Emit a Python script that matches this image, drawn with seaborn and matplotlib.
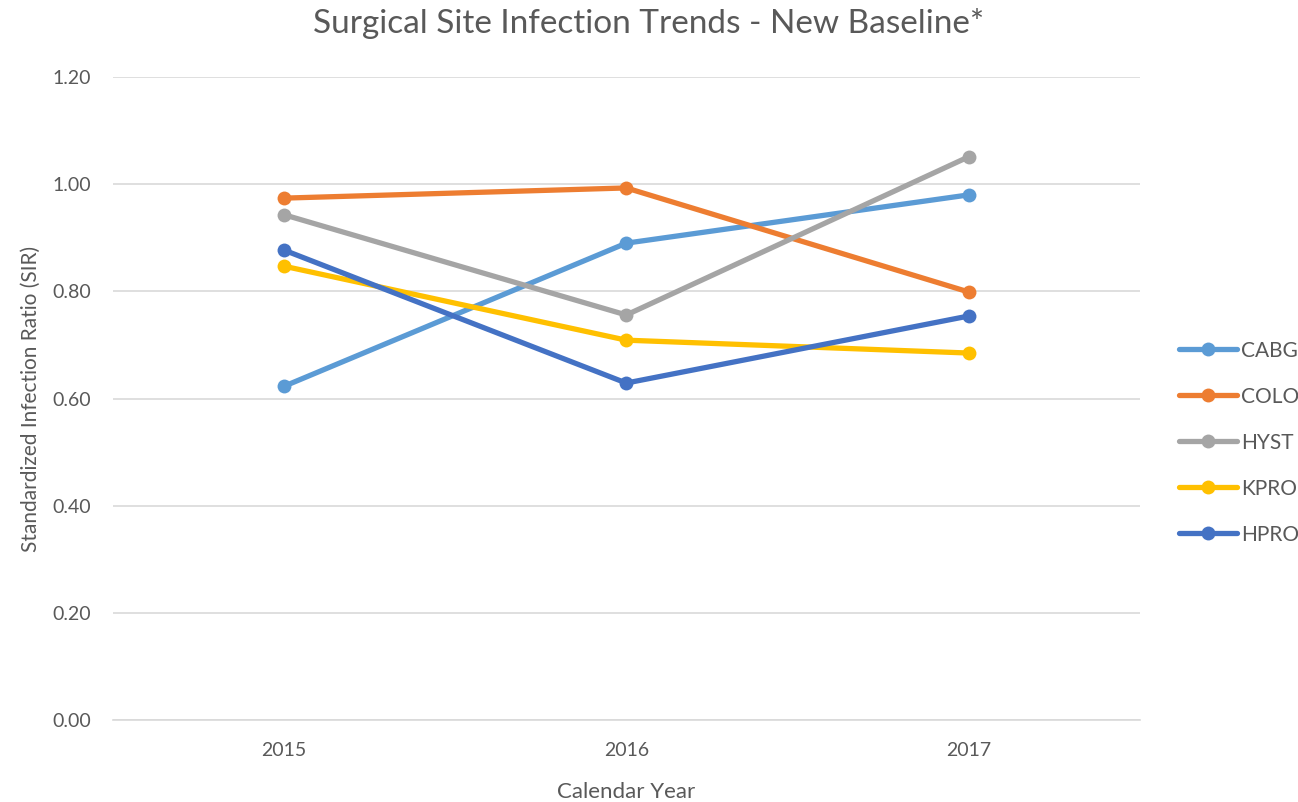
import pandas as pd
import matplotlib.pyplot as plt
import seaborn as sns

years = ['2015', '2016', '2017']
procedures = ['CABG', 'COLO', 'HYST', 'KPRO', 'HPRO']
cabg = [0.623, 0.890, 0.980]
colo = [0.974, 0.993, 0.799]
hyst = [0.943, 0.756, 1.051]
kpro = [0.847, 0.709, 0.685]
hpro = [0.877, 0.629, 0.754]
colors = ['#5B9BD5', '#ED7D31', '#A5A5A5', '#FFC000', '#4472C4']

rows = []
for name, vals in zip(procedures, [cabg, colo, hyst, kpro, hpro]):
    for yr, v in zip(years, vals):
        rows.append({'year': yr, 'procedure': name, 'sir': v})
df = pd.DataFrame(rows)

sns.set_style('white')
plt.rcParams['font.family'] = ['Lato', 'DejaVu Sans']

fig = plt.figure(figsize=(12.98, 8.02), dpi=100)
ax = fig.add_axes([0.087, 0.102, 0.791, 0.802])

sns.lineplot(data=df, x='year', y='sir', hue='procedure', hue_order=procedures,
             palette=colors, marker='o', markersize=10, markeredgewidth=0,
             linewidth=3.8, ax=ax, sort=False)

ax.set_xlim(-0.5, 2.5)
ax.set_ylim(0, 1.2)
ax.set_yticks([0, 0.2, 0.4, 0.6, 0.8, 1.0, 1.2])
ax.set_yticklabels([f'{t:.2f}' for t in ax.get_yticks()])
ax.yaxis.grid(True, color='#D9D9D9', linewidth=1.2)
ax.set_axisbelow(True)
for side in ['top', 'right', 'left']:
    ax.spines[side].set_visible(False)
ax.spines['bottom'].set_color('#D9D9D9')
ax.spines['bottom'].set_linewidth(1.2)
ax.tick_params(axis='both', length=0, labelsize=14, colors='#595959')
ax.tick_params(axis='y', pad=16)
ax.tick_params(axis='x', pad=16)

ax.set_xlabel('Calendar Year', fontsize=16, color='#595959', labelpad=16)
ax.set_ylabel('Standardized Infection Ratio (SIR)', fontsize=15, color='#595959', labelpad=8)
fig.suptitle('Surgical Site Infection Trends - New Baseline*', fontsize=24,
             color='#595959', y=0.99, x=0.5)

ax.legend(loc='center left', bbox_to_anchor=(0.908, 0.448),
          bbox_transform=fig.transFigure, frameon=False,
          fontsize=15, labelspacing=1.25, handlelength=2.8, handletextpad=0.2,
          labelcolor='#595959', borderaxespad=0, borderpad=0)

fig.savefig('out.png', dpi=100)
